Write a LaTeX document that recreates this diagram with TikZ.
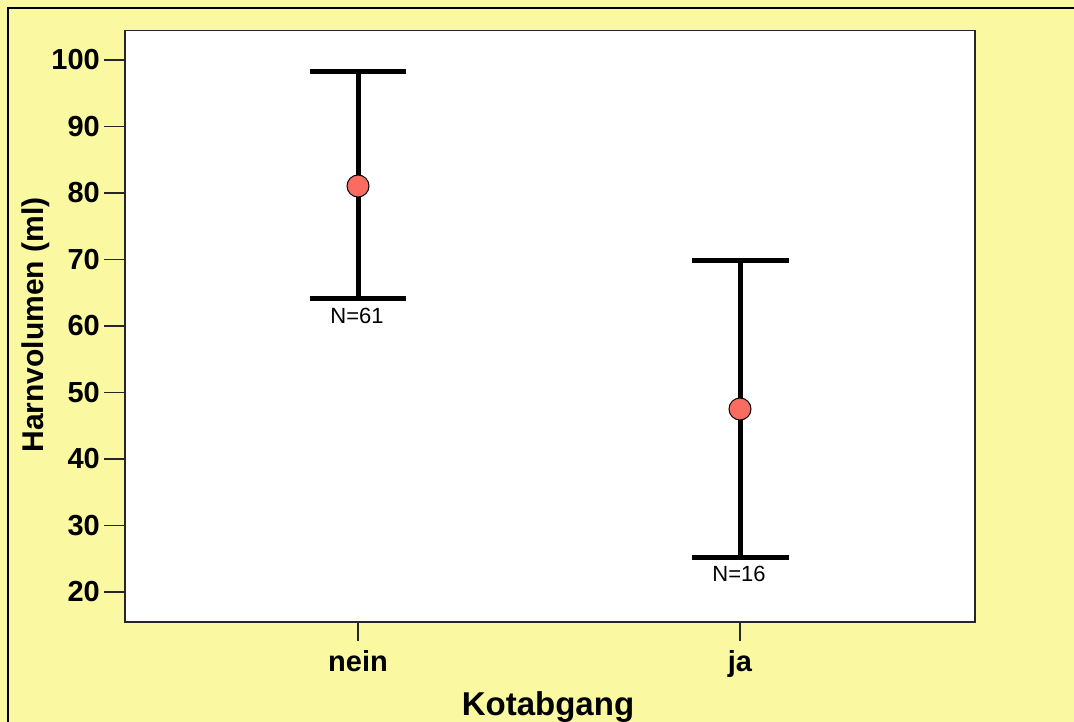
\documentclass[tikz,border=0pt]{standalone}
\usepackage{fontspec}
\setmainfont{Liberation Sans}
\definecolor{bgyellow}{RGB}{250,248,160}
\definecolor{dotred}{RGB}{250,108,98}
\begin{document}
\begin{tikzpicture}[x=1bp,y=-1bp,
  ticklab/.style={font=\bfseries\fontsize{29bp}{30bp}\selectfont, inner sep=0pt},
  axistitle/.style={font=\bfseries\fontsize{33bp}{34bp}\selectfont, inner sep=0pt},
  ytitlestyle/.style={font=\bfseries\fontsize{30bp}{31bp}\selectfont, inner sep=0pt},
  nlab/.style={font=\fontsize{22bp}{23bp}\selectfont, inner sep=0pt, anchor=north},
  tickline/.style={line width=1.8bp, black!85},
  bar/.style={line width=5bp, black},
  meandot/.style={circle, draw=black, line width=1bp, fill=dotred, minimum size=22bp, inner sep=0pt}]
\useasboundingbox (0,0) rectangle (1074,722);
% background
\fill[bgyellow] (0,0) rectangle (1074,722);
\draw[line width=2bp, black] (8,740) -- (8,8) -- (1090,8);
% plot area
\node[draw=black!85, line width=1.5bp, fill=white, inner sep=0pt, minimum width=850bp, minimum height=591bp, anchor=north west] (plot) at (124,30) {};
% y ticks
\foreach \v in {20,30,...,100}{
  \pgfmathsetmacro{\yy}{60+(100-\v)*6.65}
  \coordinate (t\v) at (124,\yy);
  \coordinate (ts\v) at (104,\yy);
  \draw[tickline] (t\v) -- (ts\v);
  \node[ticklab, anchor=east] (l\v) at (100,\yy) {\v};
}
% x ticks
\coordinate (xn) at (358,621); \coordinate (xnb) at (358,641);
\coordinate (xj) at (740,621); \coordinate (xjb) at (740,641);
\draw[tickline] (xn) -- (xnb);
\draw[tickline] (xj) -- (xjb);
\node[ticklab, anchor=base] (lnein) at (358,671) {nein};
\node[ticklab, anchor=base] (lja) at (740,671) {ja};
% axis titles
\node[axistitle, anchor=base] (xtitle) at (548,715) {Kotabgang};
\node[ytitlestyle, anchor=base, rotate=90] (ytitle) at (43,325) {Harnvolumen (ml)};
% error bar nein
\coordinate (ntop) at (358,72); \coordinate (nbot) at (358,298);
\coordinate (ntl) at (310,72); \coordinate (ntr) at (406,72);
\coordinate (nbl) at (310,298); \coordinate (nbr) at (406,298);
\draw[bar] (ntop) -- (nbot);
\draw[bar] (ntl) -- (ntr);
\draw[bar] (nbl) -- (nbr);
\node[meandot] (nmean) at (358,186) {};
\node[nlab] (nN) at (357,308) {N=61};
% error bar ja
\coordinate (jtop) at (740,260.5); \coordinate (jbot) at (740,557);
\coordinate (jtl) at (692,260.5); \coordinate (jtr) at (789,260.5);
\coordinate (jbl) at (692,557); \coordinate (jbr) at (789,557);
\draw[bar] (jtop) -- (jbot);
\draw[bar] (jtl) -- (jtr);
\draw[bar] (jbl) -- (jbr);
\node[meandot] (jmean) at (740,409) {};
\node[nlab] (jN) at (739,566) {N=16};
\end{tikzpicture}
\end{document}
